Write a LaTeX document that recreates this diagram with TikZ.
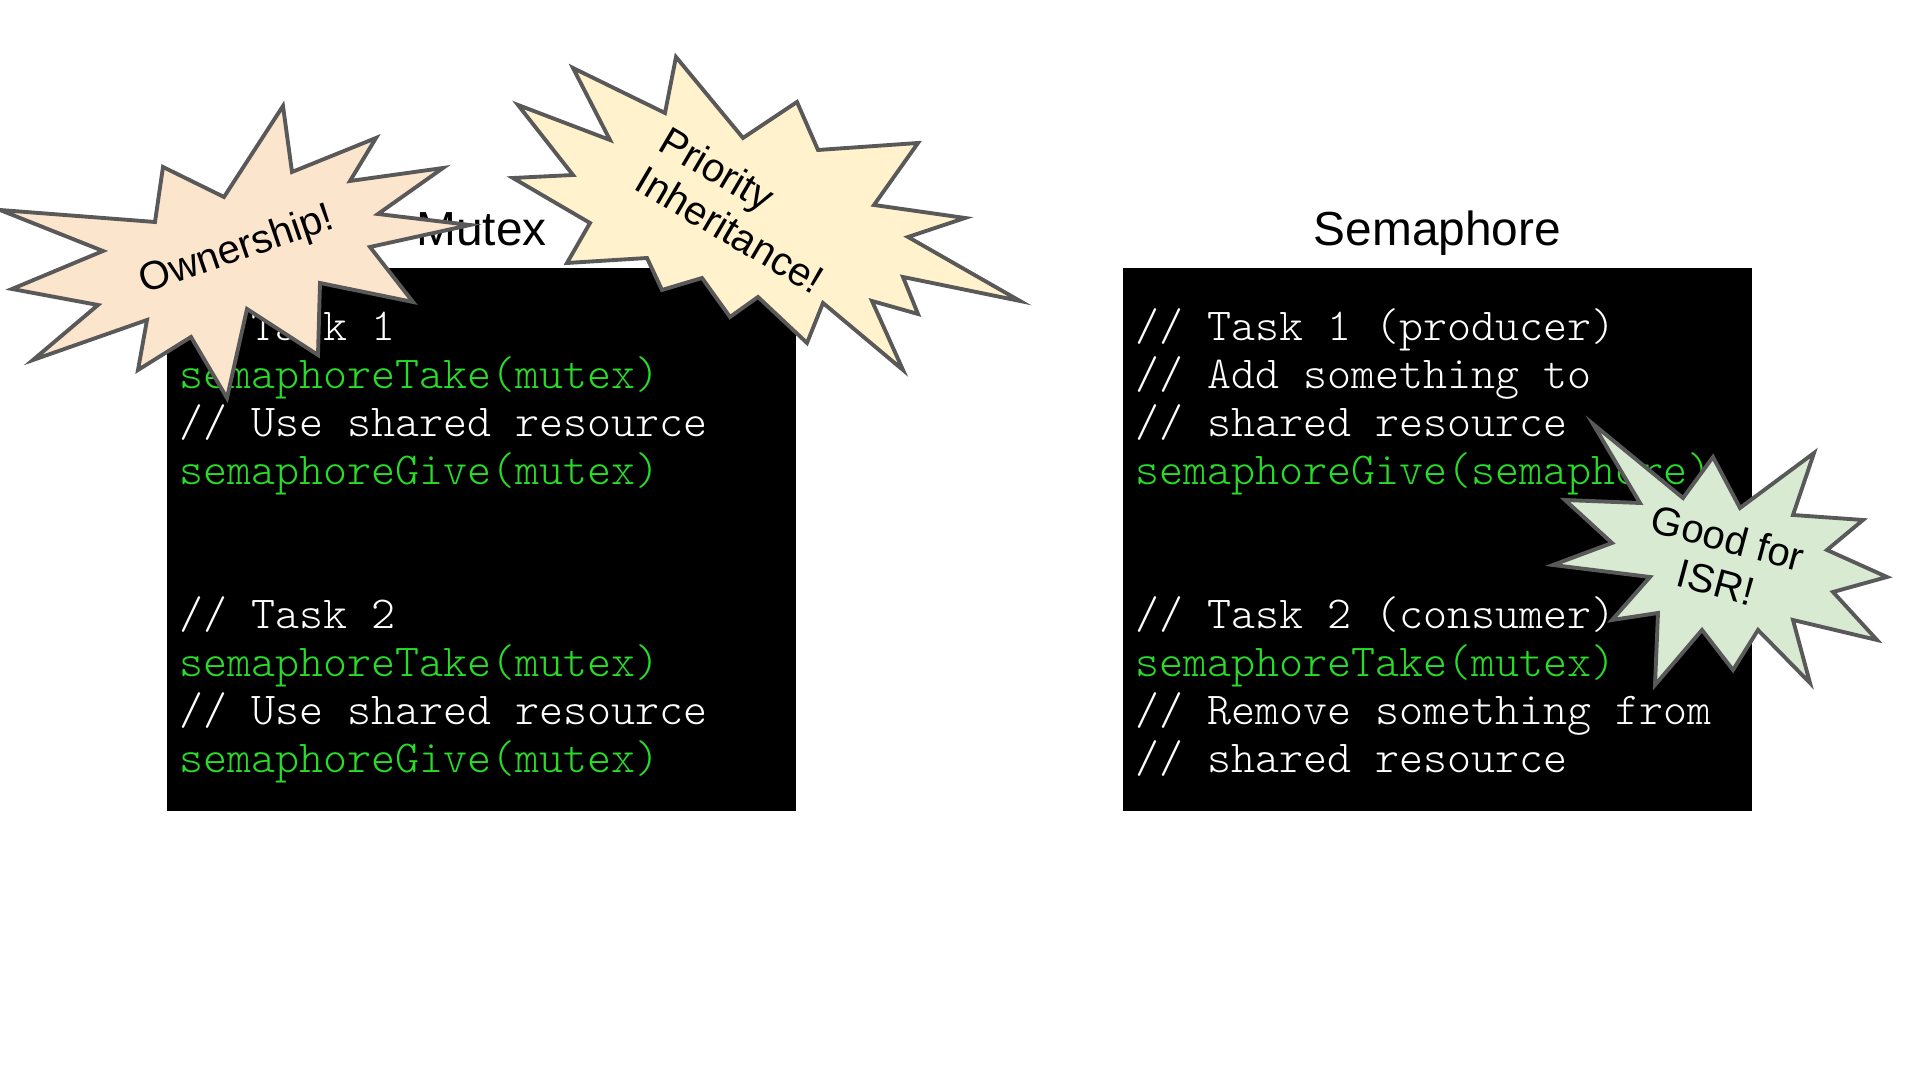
\documentclass[tikz,border=0pt]{standalone}
\usepackage{fontspec}
\setmainfont{Liberation Sans}
\setmonofont{Latin Modern Mono Light}
\usepackage{xcolor}
\usepackage{tikz}
\usetikzlibrary{positioning}

\definecolor{ownfill}{HTML}{FCE5CD}
\definecolor{prifill}{HTML}{FFF2CC}
\definecolor{isrfill}{HTML}{D9EAD3}
\definecolor{burstline}{HTML}{595959}
\definecolor{codegreen}{RGB}{40,220,40}
\newcommand{\gr}[1]{\textcolor{codegreen}{#1}}

\begin{document}
\begin{tikzpicture}[x=0.01cm,y=-0.01cm,
  title/.style={font=\fontsize{13.6pt}{16pt}\selectfont,anchor=base},
  code/.style={font=\fontsize{13pt}{13.66pt}\selectfont\ttfamily,text=white,align=left,anchor=base west,inner sep=0pt},
  burst/.style={draw=burstline,line width=1.1pt},
  bursttext/.style={font=\fontsize{11.4pt}{13pt}\selectfont,align=center}]
\def\ownburst{(283,106) -- (292,172) -- (376,138) -- (350,181) -- (443,168) -- (378,214) -- (470,225) -- (370,247) -- (413,302) -- (320,283) -- (318,355) -- (247,309) -- (227,398) -- (191,337) -- (138,370) -- (147,320) -- (33,360) -- (98,305) -- (12,289) -- (103,251) -- (0,210) -- (155,222) -- (163,167) -- (224,197) -- cycle}
\def\priburst{(676,57) -- (743,138) -- (797,102) -- (818,150) -- (918,143) -- (874,205) -- (965,218) -- (908,237) -- (1020,301) -- (903,277) -- (918,314) -- (872,301) -- (903,370) -- (823,303) -- (807,343) -- (758,297) -- (730,317) -- (702,278) -- (662,290) -- (647,258) -- (567,263) -- (590,223) -- (513,178) -- (573,175) -- (518,105) -- (610,140) -- (573,68) -- (665,113) -- cycle}
\def\isrburst{(1593,424) -- (1683,498) -- (1713,457) -- (1740,508) -- (1814,453) -- (1793,515) -- (1863,520) -- (1827,550) -- (1887,577) -- (1833,592) -- (1877,640) -- (1793,620) -- (1810,683) -- (1758,630) -- (1733,670) -- (1702,630) -- (1655,685) -- (1658,613) -- (1612,620) -- (1650,577) -- (1553,565) -- (1612,543) -- (1565,500) -- (1640,503) -- cycle}
  \useasboundingbox[fill=white] (0,0) rectangle (1920,1080);
  % code panels
  \fill[black] (167,268) rectangle (796,811);
  \fill[black] (1123,268) rectangle (1752,811);
  \node[code] (mutexcode) at (179,773) {// Task 1\\
    \gr{semaphoreTake(mutex)}\\
    // Use shared resource\\
    \gr{semaphoreGive(mutex)}\\[27.32pt]
    // Task 2\\
    \gr{semaphoreTake(mutex)}\\
    // Use shared resource\\
    \gr{semaphoreGive(mutex)}};
  \node[code] (semcode) at (1135,773) {// Task 1 (producer)\\
    // Add something to\\
    // shared resource\\
    \gr{semaphoreGive(semaphore)}\\[27.32pt]
    // Task 2 (consumer)\\
    \gr{semaphoreTake(mutex)}\\
    // Remove something from\\
    // shared resource};
  \node[title] (mutextitle) at (481.5,246) {Mutex};
  \node[title] (semtitle) at (1437.5,246) {Semaphore};
  % callouts
  \draw[burst,fill=ownfill] \ownburst;
  \node[bursttext,rotate=19] (owntext) at (237,251) {Ownership!};
  \draw[burst,fill=prifill] \priburst;
  \node[bursttext,align=left,rotate=-30.5] (pritext) at (742,210) {Priority\\Inheritance!};
  \draw[burst,fill=isrfill] \isrburst;
  \node[bursttext,rotate=-15] (isrtext) at (1722,560) {Good for\\ISR!};
\end{tikzpicture}
\end{document}
